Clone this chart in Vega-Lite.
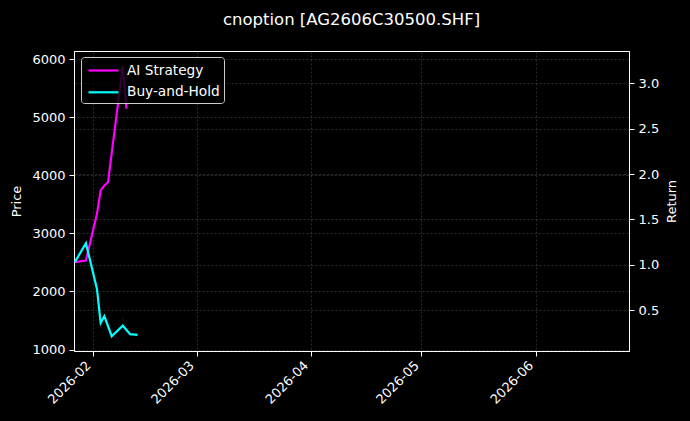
{
  "$schema": "https://vega.github.io/schema/vega-lite/v6.json",
  "description": "cnoption AG2606C30500.SHF strategy vs buy-and-hold",
  "autosize": "none",
  "width": 555,
  "height": 300,
  "padding": {"left": 74, "top": 51, "right": 61, "bottom": 70},
  "background": "#000000",
  "title": {
    "text": "cnoption [AG2606C30500.SHF]",
    "fontSize": 16.5,
    "fontWeight": "normal",
    "color": "#ffffff",
    "anchor": "middle",
    "frame": "group",
    "offset": 23
  },
  "config": {
    "font": "DejaVu Sans",
    "view": {"stroke": "#ffffff", "strokeWidth": 1},
    "axis": {
      "labelColor": "#ffffff",
      "titleColor": "#ffffff",
      "domainColor": "#ffffff",
      "tickColor": "#ffffff",
      "labelFontSize": 13,
      "titleFontSize": 13,
      "titleFontWeight": "normal",
      "tickSize": 5,
      "labelPadding": 4,
      "gridColor": "#777777",
      "gridOpacity": 0.6,
      "gridWidth": 0.6,
      "gridDash": [2, 2]
    }
  },
  "datasets": {
    "returns": [
      {"date": "2026-01-27", "series": "AI Strategy", "ret": 1.03},
      {"date": "2026-01-30", "series": "AI Strategy", "ret": 1.047},
      {"date": "2026-02-02", "series": "AI Strategy", "ret": 1.562},
      {"date": "2026-02-03", "series": "AI Strategy", "ret": 1.82},
      {"date": "2026-02-04", "series": "AI Strategy", "ret": 1.875},
      {"date": "2026-02-05", "series": "AI Strategy", "ret": 1.91},
      {"date": "2026-02-09", "series": "AI Strategy", "ret": 3.19},
      {"date": "2026-02-10", "series": "AI Strategy", "ret": 2.72},
      {"date": "2026-01-27", "series": "Buy-and-Hold", "ret": 1.03},
      {"date": "2026-01-30", "series": "Buy-and-Hold", "ret": 1.239},
      {"date": "2026-02-02", "series": "Buy-and-Hold", "ret": 0.735},
      {"date": "2026-02-03", "series": "Buy-and-Hold", "ret": 0.36},
      {"date": "2026-02-04", "series": "Buy-and-Hold", "ret": 0.434},
      {"date": "2026-02-06", "series": "Buy-and-Hold", "ret": 0.214},
      {"date": "2026-02-09", "series": "Buy-and-Hold", "ret": 0.33},
      {"date": "2026-02-11", "series": "Buy-and-Hold", "ret": 0.236},
      {"date": "2026-02-13", "series": "Buy-and-Hold", "ret": 0.228}
    ],
    "price": [
      {"date": "2026-02-02", "price": 3675},
      {"date": "2026-02-05", "price": 1734},
      {"date": "2026-02-09", "price": 1534},
      {"date": "2026-02-11", "price": 1045},
      {"date": "2026-02-13", "price": 1057}
    ]
  },
  "encoding": {
    "x": {
      "field": "date",
      "type": "temporal",
      "scale": {
        "type": "utc",
        "domain": [
          {"year": 2026, "month": 1, "date": 26, "hours": 18, "minutes": 30, "utc": true},
          {"year": 2026, "month": 6, "date": 26, "hours": 7, "utc": true}
        ]
      },
      "axis": {
        "title": null,
        "format": "%Y-%m",
        "values": [
          {"year": 2026, "month": 2, "date": 1, "utc": true},
          {"year": 2026, "month": 3, "date": 1, "utc": true},
          {"year": 2026, "month": 4, "date": 1, "utc": true},
          {"year": 2026, "month": 5, "date": 1, "utc": true},
          {"year": 2026, "month": 6, "date": 1, "utc": true}
        ],
        "labelAngle": -45,
        "labelAlign": "right",
        "labelBaseline": "bottom",
        "labelPadding": 12,
        "grid": true
      }
    }
  },
  "layer": [
    {
      "data": {"name": "price"},
      "mark": {"type": "point", "filled": true, "size": 5, "color": "#5a0000", "opacity": 0.5},
      "encoding": {
        "y": {
          "field": "price",
          "type": "quantitative",
          "scale": {"domain": [976, 6138], "nice": false, "zero": false},
          "axis": {
            "orient": "left",
            "title": "Price",
            "values": [1000, 2000, 3000, 4000, 5000, 6000],
            "format": "d",
            "titlePadding": 8,
            "grid": true
          }
        }
      }
    },
    {
      "data": {"name": "returns"},
      "mark": {"type": "line", "strokeWidth": 2.2},
      "encoding": {
        "y": {
          "field": "ret",
          "type": "quantitative",
          "scale": {"domain": [0.051, 3.356], "nice": false, "zero": false},
          "axis": {
            "orient": "right",
            "title": "Return",
            "titleAngle": 270,
            "titleBaseline": "bottom",
            "values": [0.5, 1.0, 1.5, 2.0, 2.5, 3.0],
            "format": ".1f",
            "titlePadding": 20,
            "grid": true
          }
        },
        "color": {
          "field": "series",
          "type": "nominal",
          "scale": {"domain": ["AI Strategy", "Buy-and-Hold"], "range": ["#ff00ff", "#00ffff"]},
          "legend": {
            "title": null,
            "orient": "none",
            "legendX": 7,
            "legendY": 6,
            "zindex": 1,
            "symbolType": "M-1.875,0H1.875",
            "symbolSize": 256,
            "symbolStrokeWidth": 2.2,
            "symbolOffset": 9,
            "labelColor": "#ffffff",
            "labelFontSize": 13.7,
            "labelOffset": 14,
            "rowPadding": 4.8,
            "padding": 4,
            "fillColor": "rgba(0,0,0,0.8)",
            "strokeColor": "#cccccc",
            "cornerRadius": 3
          }
        }
      }
    }
  ],
  "resolve": {"scale": {"y": "independent"}}
}
